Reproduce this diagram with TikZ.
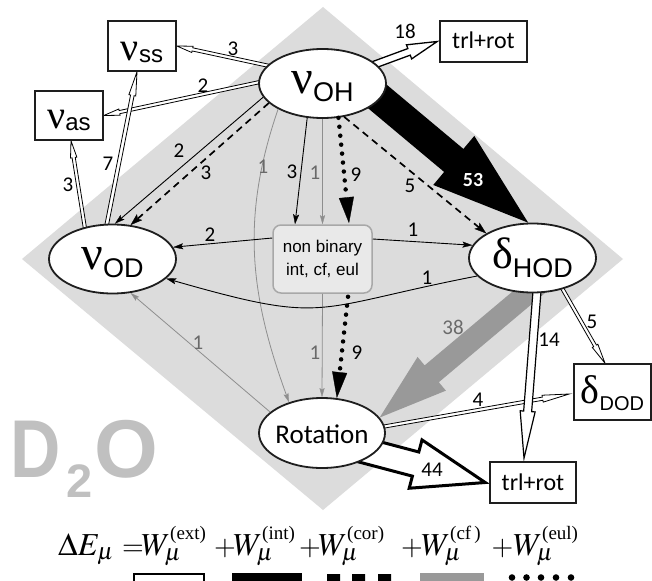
\documentclass[tikz,border=0pt]{standalone}
\usepackage{mathptmx}
\usepackage[no-math]{fontspec}
\setmainfont{Liberation Sans}
\newfontfamily\lblfont{Carlito}
\newfontfamily\grkfont{Liberation Serif}
\newfontfamily\timesf{Liberation Serif}
\usepackage{graphicx}
\usetikzlibrary{shapes.geometric,arrows.meta,calc}
\pgfdeclarelayer{diamlayer}
\pgfdeclarelayer{arrlayer}
\pgfsetlayers{diamlayer,arrlayer,main}
\definecolor{diamc}{HTML}{DCDCDC}
\definecolor{nbfill}{HTML}{E9E9E9}
\definecolor{nbdraw}{HTML}{A8A8A8}
\definecolor{gline}{HTML}{8E8E8E}
\definecolor{gblock}{HTML}{999999}
\definecolor{glbl}{HTML}{6A6A6A}
\definecolor{d2oc}{HTML}{C0C0C0}
\definecolor{edgec}{HTML}{1E1E1E}
\newcommand\symtxt[5]{{\grkfont\fontsize{#2}{#2}\selectfont #1}\raisebox{-#5}{\fontsize{#4}{#4}\selectfont #3}}
\newcommand\wterm[1]{$W_{\mu}^{\hbox{\timesf\fontsize{19}{19}\selectfont(#1)}}$}
\newcommand\blkarrow[6]{%
  \coordinate (ba-s) at (#2);
  \coordinate (ba-e) at (#3);
  \coordinate (ba-h) at ($(ba-e)!#6!(ba-s)$);
  \draw[#1] ($(ba-s)!#4!90:(ba-e)$) -- ($(ba-h)!#4!90:(ba-e)$) -- ($(ba-h)!#5!90:(ba-e)$) -- (ba-e) -- ($(ba-h)!#5!-90:(ba-e)$) -- ($(ba-h)!#4!-90:(ba-e)$) -- ($(ba-s)!#4!-90:(ba-e)$) -- cycle;}
\begin{document}
\begin{tikzpicture}[x=1pt,y=-1pt,
  ell/.style={ellipse, draw=edgec, line width=1.8pt, fill=white, minimum width=127pt, minimum height=69pt, inner sep=0pt, text depth=0pt},
  sqbox/.style={rectangle, draw=edgec, line width=1.6pt, fill=white, inner sep=0pt, text depth=0pt},
  nbbox/.style={rectangle, rounded corners=8pt, draw=nbdraw, fill=nbfill, line width=1.5pt, minimum width=99pt, minimum height=68pt, align=center, font=\fontsize{17}{23}\selectfont, inner sep=0pt},
  lbl/.style={font=\lblfont\fontsize{21}{21}\selectfont, inner sep=0pt},
  glabel/.style={lbl, text=glbl},
  ext/.style={draw=black, fill=white, line width=0.8pt, line join=miter},
  sarr/.style={draw=black, line width=0.9pt, -{Stealth[length=10pt,width=6pt,inset=2pt,line width=0.3pt]}},
  darr/.style={draw=black, line width=1.7pt, dash pattern=on 7pt off 5pt, -{Stealth[length=12pt,width=8pt,inset=2.5pt,line width=0.3pt]}},
  garr/.style={draw=gline, line width=0.8pt, -{Stealth[length=9pt,width=5pt,inset=1.5pt,line width=0.3pt]}},
  dotarr/.style={draw=black, line width=4.5pt, line cap=round, dash pattern=on 0pt off 9pt, -{Triangle[length=26pt,width=15pt,line width=0.3pt]}},
  d2o/.style={text=d2oc, inner sep=0pt, anchor=base west},
  eqn/.style={inner sep=0pt, font=\fontsize{32}{32}\selectfont},
  eqplus/.style={inner sep=0pt, font=\fontsize{28}{28}\selectfont, anchor=base}
]
\useasboundingbox (0,0) rectangle (652,580);
\clip (0,0) rectangle (652,580);

\begin{pgfonlayer}{diamlayer}
\fill[diamc] (323,7) -- (623,259) -- (323,510) -- (22,259) -- cycle;
\end{pgfonlayer}

% nodes
\node[ell, text height=20pt] (nuOH) at (322.5,83.5) {\symtxt{ν}{48}{OH}{27}{8pt}};
\node[ell, text height=20pt] (nuOD) at (112.5,259) {\symtxt{ν}{48}{OD}{27}{8pt}};
\node[ell, text height=20pt] (dHOD) at (532.5,258) {\symtxt{δ}{44}{HOD}{27}{9pt}};
\node[ell, minimum width=126pt, minimum height=70pt, inner xsep=-20pt, text height=20pt, font=\lblfont\fontsize{27}{27}\selectfont] (rot) at (322,433) {Rotation};
\node[nbbox] (nb) at (322.5,259) {non binary\\int, cf, eul};
\node[sqbox, minimum width=68pt, minimum height=50pt, text height=30pt] (nuss) at (142,46) {\symtxt{ν}{40}{ss}{24}{2pt}};
\node[sqbox, minimum width=68pt, minimum height=49pt, text height=26pt] (nuas) at (69,115.5) {\symtxt{ν}{40}{as}{24}{2pt}};
\node[sqbox, minimum width=87pt, minimum height=41pt, text height=15pt, font=\lblfont\fontsize{24}{24}\selectfont] (trlT) at (483.5,41.5) {trl+rot};
\node[sqbox, minimum width=86pt, minimum height=41pt, text height=15pt, font=\lblfont\fontsize{24}{24}\selectfont] (trlB) at (533,482.5) {trl+rot};
\node[sqbox, minimum width=77pt, minimum height=56pt, text height=22pt] (dDOD) at (612.5,392) {\symtxt{δ}{40}{DOD}{20}{7pt}};

% block and double-line arrows
\begin{pgfonlayer}{arrlayer}
\coordinate (b53e) at (dHOD.97);
\coordinate (b53s) at ($(nuOH.345)!-12pt!(b53e)$);
\blkarrow{fill=black, draw=none}{b53s}{b53e}{15pt}{32pt}{97pt}
\coordinate (b38e) at (rot.15);
\coordinate (b38s) at ($(dHOD.262)!-25pt!(b38e)$);
\blkarrow{fill=gblock, draw=none}{b38s}{b38e}{11pt}{22pt}{68pt}
\coordinate (b44e) at ([xshift=-4pt]trlB.west);
\coordinate (b44s) at ($(rot.339)!-15pt!(b44e)$);
\blkarrow{draw=black, fill=white, line width=3pt, line join=miter}{b44s}{b44e}{12.5pt}{25pt}{72pt}
\coordinate (b18e) at ([xshift=-2pt]trlT.west);
\coordinate (b18s) at ($(nuOH.20)!-6pt!(b18e)$);
\blkarrow{ext, line width=1.3pt}{b18s}{b18e}{3.5pt}{7.5pt}{30pt}
\coordinate (bssE) at (nuss.east);
\coordinate (bssS) at ($(nuOH.162)!-4pt!(bssE)$);
\blkarrow{ext}{bssS}{bssE}{1.6pt}{3.2pt}{16pt}
\coordinate (basE) at (nuas.east);
\coordinate (basS) at ($(nuOH.179)!-4pt!(basE)$);
\blkarrow{ext}{basS}{basE}{1.6pt}{3.2pt}{16pt}
\coordinate (b7E) at ([xshift=-5pt]nuss.south);
\coordinate (b7S) at ($(nuOD.99)!-4pt!(b7E)$);
\blkarrow{ext}{b7S}{b7E}{1.8pt}{3.5pt}{24pt}
\coordinate (b3E) at ([xshift=2pt]nuas.south);
\coordinate (b3S) at ($(nuOD.131)!-4pt!(b3E)$);
\blkarrow{ext}{b3S}{b3E}{1.6pt}{3.2pt}{17pt}
\coordinate (b5E) at ([xshift=-7.5pt]dDOD.north);
\coordinate (b5S) at ($(dHOD.314)!-4pt!(b5E)$);
\blkarrow{ext}{b5S}{b5E}{1.6pt}{3.2pt}{20pt}
\coordinate (b4E) at ([xshift=-4pt,yshift=-2pt]dDOD.west);
\coordinate (b4S) at ($(rot.6)!-4pt!(b4E)$);
\blkarrow{ext}{b4S}{b4E}{1.6pt}{3.5pt}{27pt}
\coordinate (b14e) at ([xshift=-9pt,yshift=3pt]trlB.north);
\coordinate (b14s) at ($(dHOD.277)!-6pt!(b14e)$);
\blkarrow{ext, line width=1.2pt}{b14s}{b14e}{4pt}{7.5pt}{47pt}
\end{pgfonlayer}

% thin connectors
\draw[sarr] (nuOH.193) -- (nuOD.86);
\draw[darr] (nuOH.200) -- (nuOD.62);
\draw[garr] (nuOH.210) to[out=251,in=110] (rot.137);
\draw[sarr] (nuOH.246) -- ([xshift=-27.5pt]nb.north);
\draw[garr] (nuOH.south) -- (nb.north);
\draw[dotarr] (nuOH.295) -- ([xshift=26.5pt,yshift=1pt]nb.north);
\draw[darr] (nuOH.303) -- (dHOD.152);
\draw[sarr] ([yshift=21pt]nb.west) -- (nuOD.11);
\draw[sarr] ([yshift=20pt]nb.east) -- (dHOD.168);
\draw[garr] (nb.south) -- (rot.north);
\draw[dotarr] ([xshift=25.5pt,yshift=-3pt]nb.south) -- (rot.67);
\draw[sarr] (dHOD.198) to[out=191,in=344,looseness=1.4] (nuOD.340);
\draw[garr] (rot.158) -- (nuOD.298);

% labels
\node[lbl] (l1) at (233,49) {3};
\node[lbl] (l2) at (203,86) {2};
\node[lbl] (l3) at (108,164) {7};
\node[lbl] (l4) at (68,185) {3};
\node[lbl] (l5) at (179,151) {2};
\node[lbl] (l6) at (206,173) {3};
\node[glabel] (l7) at (263,167) {1};
\node[lbl] (l8) at (292,172) {3};
\node[glabel] (l9) at (315,173) {1};
\node[lbl] (l10) at (356,175) {9};
\node[lbl] (l11) at (410,186) {5};
\node[lbl, text=white, font=\lblfont\bfseries\fontsize{20}{20}\selectfont] (l12) at (473,180) {53};
\node[lbl] (l13) at (405,31) {18};
\node[lbl] (l14) at (210,235) {2};
\node[lbl] (l15) at (413,230) {1};
\node[lbl] (l16) at (427,278) {1};
\node[glabel] (l17) at (198,343) {1};
\node[glabel] (l18) at (315,353) {1};
\node[lbl] (l19) at (357,353) {9};
\node[glabel] (l20) at (453,327) {38};
\node[lbl] (l21) at (549,340) {14};
\node[lbl] (l22) at (592,322) {5};
\node[lbl] (l23) at (478,400) {4};
\node[lbl] (l24) at (432,470) {44};

% D2O
\node[d2o, font=\bfseries\fontsize{82}{82}\selectfont] (d2oD) at (10,477) {\scalebox{0.85}[1]{D}};
\node[d2o, font=\bfseries\fontsize{47}{47}\selectfont] (d2o2) at (66,497) {2};
\node[d2o, font=\bfseries\fontsize{82}{82}\selectfont] (d2oO) at (94,477) {O};

% equation and legend
\node[eqn, anchor=base west] (eqA) at (58,555) {$\Delta E_{\mu}$};
\node[eqplus] (eqEq) at (133,555) {$=$};
\node[eqn, anchor=base west] (eqW1) at (141,555) {\wterm{ext}};
\node[eqplus] (eqP1) at (225,555) {$+$};
\node[eqn, anchor=base west] (eqW2) at (233,555) {\wterm{int}};
\node[eqplus] (eqP2) at (310,555) {$+$};
\node[eqn, anchor=base west] (eqW3) at (318,555) {\wterm{cor}};
\node[eqplus] (eqP3) at (412,555) {$+$};
\node[eqn, anchor=base west] (eqW4) at (421,555) {\wterm{cf\,}};
\node[eqplus] (eqP4) at (502.5,555) {$+$};
\node[eqn, anchor=base west] (eqW5) at (513,555) {\wterm{eul}};
\draw[line width=1.2pt, fill=white] (134,574) rectangle (204,586);
\fill (232,573) rectangle (302,586);
\fill (327,574) rectangle (340,586) (352,574) rectangle (365,586) (378,574) rectangle (391,586);
\fill[gblock] (420,573) rectangle (484,586);
\foreach \x in {512,526.5,541,556,571} \fill (\x,577.5) circle (3.3pt);
\end{tikzpicture}
\end{document}
